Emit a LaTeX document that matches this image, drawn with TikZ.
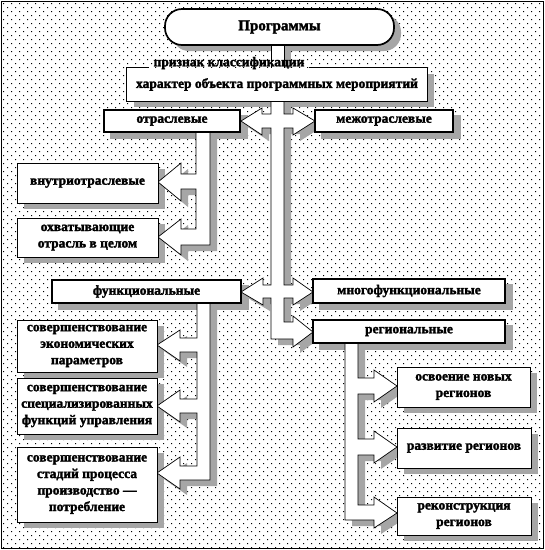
\documentclass[tikz,border=0pt]{standalone}
\usepackage{fontspec}
\setmainfont{Liberation Serif}[BoldFeatures={FakeBold=2}]
\newfontfamily\tms{Liberation Serif}[BoldFeatures={FakeBold=2}]
\pgfdeclarelayer{bg}
\pgfdeclarelayer{shd}
\pgfsetlayers{bg,shd,main}
\newcommand\fsz{\tms\fontsize{13.5}{16.5}\selectfont}
\tikzset{
  shdc/.style={fill=black!35, draw=none},
  conn/.style={fill=white, draw=black, line width=0.7pt, line join=miter},
  box/.style={fill=white, draw=black, line width=0.8pt, inner sep=0pt, align=center, font=\fsz\bfseries},
  hbox/.style={box, line width=1.7pt},
}
\def\stempath{(271,45) rectangle (284,68)}
\def\trunkpath{(271,101) -- (271,114) -- (262,114) -- (262,108) -- (241,121) -- (262,135) -- (262,128) -- (271,128)
  -- (271,285) -- (263,285) -- (263,278) -- (241,292) -- (263,305) -- (263,298) -- (271,298)
  -- (271,339) -- (293,339) -- (293,347) -- (313,332) -- (293,316) -- (293,322) -- (284,322)
  -- (284,298) -- (293,298) -- (293,305) -- (313,292) -- (293,278) -- (293,285) -- (284,285)
  -- (284,128) -- (293,128) -- (293,135) -- (315,121) -- (293,108) -- (293,114) -- (284,114) -- (284,101) -- cycle}
\def\otrpath{(196,132) -- (196,174) -- (181,174) -- (181,163) -- (158,182) -- (181,201) -- (181,189) -- (196,189)
  -- (196,229) -- (181,229) -- (181,219) -- (158,237) -- (181,255) -- (181,245) -- (210,245) -- (210,132) -- cycle}
\def\funcpath{(197,303) -- (197,338) -- (180,338) -- (180,330) -- (157,345) -- (180,361) -- (180,352) -- (197,352)
  -- (197,399) -- (180,399) -- (180,390) -- (157,406) -- (180,422) -- (180,413) -- (197,413)
  -- (197,466) -- (180,466) -- (180,457) -- (157,473) -- (180,489) -- (180,480) -- (210,480) -- (210,303) -- cycle}
\def\regpath{(358,343) -- (358,378) -- (374,378) -- (374,370) -- (397,386) -- (374,402) -- (374,394) -- (358,394)
  -- (358,439) -- (374,439) -- (374,431) -- (397,447) -- (374,463) -- (374,455) -- (358,455)
  -- (358,505) -- (374,505) -- (374,497) -- (397,513) -- (374,528) -- (374,520) -- (345,520) -- (345,343) -- cycle}
\begin{document}
\begin{tikzpicture}[x=1pt,y=-1pt]
\useasboundingbox (0,0) rectangle (545,550);
\begin{pgfonlayer}{bg}
  \fill[white] (0,0) rectangle (545,550);
  \begin{scope}
    \clip (2,2) rectangle (542,547);
    \foreach \j in {0,...,136} {
      \pgfmathsetmacro\xo{3+4*mod(\j,2)}
      \pgfmathsetmacro\yo{3+\j*4}
      \fill[black] foreach \i in {0,...,67} { (\xo+\i*8,\yo) rectangle +(1,1) };
    }
  \end{scope}
  \draw[line width=0.8pt] (1.5,1.5) rectangle (543,548);
\end{pgfonlayer}

% connectors
\draw[conn] \stempath;
\draw[conn] \trunkpath;
\draw[conn] \otrpath;
\draw[conn] \funcpath;
\draw[conn] \regpath;

% boxes
\node[hbox, rounded corners=17pt, minimum width=229pt, minimum height=36pt, font=\tms\fontsize{15}{18}\selectfont\bfseries] (prog) at (279.5,27) {Программы};
\node[box, draw=none, minimum width=300pt, minimum height=33pt] (cls) at (277,84.5) {\raisebox{-3pt}{характер объекта программных мероприятий}};
\node[font=\fsz\bfseries, inner sep=0pt] (lbl) at (229,63) {признак классификации};
\draw[line width=0.8pt] ([xshift=4pt]lbl.east |- cls.north) -- (cls.north east) -- (cls.south east) -- (cls.south west) -- (cls.north west) -- ([xshift=-4pt]lbl.west |- cls.north);

\node[hbox, minimum width=136pt, minimum height=22pt] (otr) at (172,121) {отраслевые};
\node[hbox, minimum width=138pt, minimum height=22pt] (mezh) at (384,121) {межотраслевые};
\node[box, minimum width=141pt, minimum height=40pt] (vnutr) at (87.5,183) {внутриотраслевые};
\node[box, minimum width=141pt, minimum height=39pt] (ohv) at (87.5,237.5) {охватывающие\\отрасль в целом};
\node[hbox, minimum width=189pt, minimum height=23pt] (func) at (146.5,291.5) {функциональные};
\node[hbox, minimum width=192pt, minimum height=24pt] (mfunc) at (409,291) {многофункциональные};
\node[hbox, minimum width=192pt, minimum height=23pt] (reg) at (409,331.5) {региональные};
\node[box, minimum width=140pt, minimum height=52pt] (f1) at (87,346) {совершенствование\\экономических\\параметров};
\node[box, minimum width=140pt, minimum height=56pt] (f2) at (87,406) {совершенствование\\специализированных\\функций управления};
\node[box, minimum width=140pt, minimum height=75pt] (f3) at (87,484.5) {совершенствование\\стадий процесса\\производство —\\потребление};
\node[box, minimum width=133pt, minimum height=40pt] (r1) at (463.5,387) {освоение новых\\регионов};
\node[box, minimum width=134pt, minimum height=40pt] (r2) at (464,448) {развитие регионов};
\node[box, minimum width=134pt, minimum height=38pt] (r3) at (464,516) {реконструкция\\регионов};

% shadows
\begin{pgfonlayer}{shd}
  \fill[shdc, rounded corners=17pt] (172,15) rectangle (401,51);
  \foreach \n in {cls,otr,mezh,vnutr,ohv,func,mfunc,reg,f1,f2,f3,r1,r2,r3}
    \fill[shdc] ([shift={(7,6)}]\n.south west) rectangle ([shift={(7,6)}]\n.north east);
  \begin{scope}[shift={(7,6)}]
    \fill[shdc] \stempath;
    \fill[shdc] \trunkpath;
    \fill[shdc] \otrpath;
    \fill[shdc] \funcpath;
    \fill[shdc] \regpath;
  \end{scope}
\end{pgfonlayer}
\end{tikzpicture}
\end{document}
